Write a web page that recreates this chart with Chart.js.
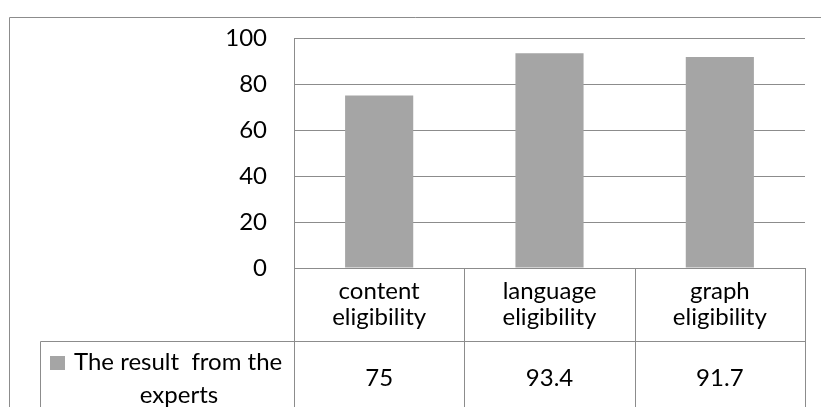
<!DOCTYPE html>
<html><head><meta charset="utf-8">
<script src="https://cdn.jsdelivr.net/npm/chart.js@4"></script>
<style>html,body{margin:0;padding:0;background:#fff}#wrap{width:821px;height:407px}</style>
</head><body><div id="wrap"><canvas id="c" width="821" height="407"></canvas></div>
<script>
const categories = [["content","eligibility"],["language","eligibility"],["graph","eligibility"]];
const seriesName = ["The result  from the","experts"];
const values = [75, 93.4, 91.7];
const valueLabels = ["75","93.4","91.7"];
const yTicks = [0,20,40,60,80,100];

const FONT = "Lato,'Open Sans',sans-serif";
const LINE = '#8c8c8c';
const BAR = '#a5a5a5';

const tablePlugin = {
  id:'table',
  afterDraw(chart){
    const ctx = chart.ctx, x = chart.scales.x, a = chart.chartArea;
    const W = chart.width, H = chart.height;
    const step = x.getPixelForValue(1)-x.getPixelForValue(0);
    const edges = [];
    for (let i=0;i<categories.length;i++) edges.push(x.getPixelForValue(i) - step/2);
    edges.push(a.right);
    const rowTop = a.bottom, rowMid = a.bottom + 73, bottom = H;
    ctx.save();
    ctx.strokeStyle = LINE; ctx.lineWidth = 1;
    ctx.beginPath();
    edges.forEach(e=>{ const xx=Math.round(e)+0.5; ctx.moveTo(xx,rowTop); ctx.lineTo(xx,bottom); });
    const ym = Math.round(rowMid)+0.5;
    ctx.moveTo(40.5, ym); ctx.lineTo(Math.round(a.right)+0.5, ym);
    ctx.moveTo(40.5, ym); ctx.lineTo(40.5, bottom);
    ctx.moveTo(9.5,17.5); ctx.lineTo(W,17.5);
    ctx.moveTo(9.5,17.5); ctx.lineTo(9.5,H);
    ctx.stroke();
    ctx.fillStyle = '#000';
    ctx.font = '24px ' + FONT;
    ctx.textAlign='center'; ctx.textBaseline='middle';
    categories.forEach((c,i)=>{
      const cx = (edges[i]+edges[i+1])/2;
      ctx.fillText(c[0], cx, rowTop+23);
      ctx.fillText(c[1], cx, rowTop+49);
      ctx.fillText(valueLabels[i], cx, rowMid+37);
    });
    ctx.fillStyle = BAR;
    ctx.fillRect(50, rowMid+15, 15, 14);
    ctx.fillStyle = '#000';
    ctx.textAlign='left';
    ctx.fillText(seriesName[0], 74, rowMid+21);
    ctx.textAlign='center';
    ctx.fillText(seriesName[1], 179, rowMid+54);
    ctx.restore();
  }
};

new Chart(document.getElementById('c'), {
  type:'bar',
  data:{ labels: categories.map(c=>c.join(' ')), datasets:[{ label: seriesName.join(' '), data: values, backgroundColor: BAR, categoryPercentage:1, barPercentage:0.4 }]},
  options:{
    responsive:false, animation:false, devicePixelRatio:1,
    layout:{ padding:{ left:0, right:16, top:38, bottom:0 } },
    plugins:{ legend:{display:false}, tooltip:{enabled:false} },
    scales:{
      x:{ grid:{display:false, drawTicks:false}, border:{display:true,color:LINE}, ticks:{display:false},
          afterFit(s){ s.height = 139; s.paddingLeft = 0; s.paddingRight = 0; } },
      y:{ min:0, max:100, afterBuildTicks(s){ s.ticks = yTicks.map(v=>({value:v})); },
          grid:{ color:LINE, drawTicks:false }, border:{display:true,color:LINE},
          ticks:{ padding:27, color:'#000', font:{ family:FONT, size:24 } },
          afterFit(s){ s.width = 294; s.paddingTop = 0; s.paddingBottom = 0; } }
    }
  },
  plugins:[tablePlugin]
});
</script></body></html>
